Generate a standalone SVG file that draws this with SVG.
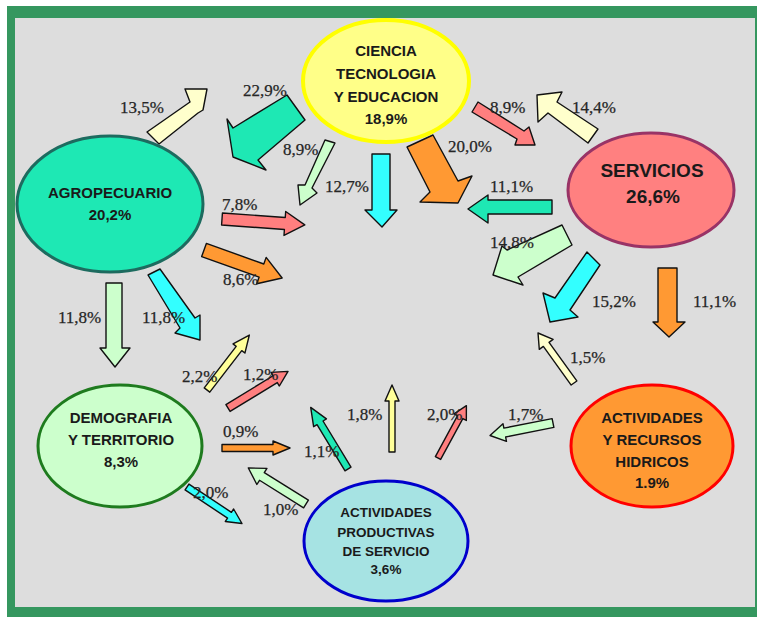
<svg xmlns="http://www.w3.org/2000/svg" width="757" height="617" viewBox="0 0 757 617">
<style>
.ar{stroke:#111;stroke-width:1.4;stroke-linejoin:round}
.cream{fill:#ffffcc}.teal{fill:#1ee8b4}.lg{fill:#ccffcc}.cyan{fill:#33ffff}.orange{fill:#ff9933}.pink{fill:#ff7f7f}.yellow{fill:#ffff99}
.lb{font-family:"Liberation Serif","Times New Roman",serif;font-size:17px;fill:#262626;stroke:#262626;stroke-width:0.25}
.nt{font-family:"Liberation Sans",Arial,sans-serif;font-weight:bold;font-size:15px;fill:#1a1a1a;text-anchor:middle}
</style>
<rect x="0" y="0" width="757" height="617" fill="#ffffff"/>
<rect x="7" y="6" width="750" height="611" fill="#35975f"/>
<rect x="15" y="18" width="740" height="589" fill="#dddddd"/>

<g id="connectors">
  <g id="e-agro-cte"><polygon class="ar cream" points="147,132 190,102 185,89 207,89 203,110 198,113 159,144"/><text class="lb" x="120" y="113">13,5%</text></g>
  <g id="e-cte-agro"><polygon class="ar teal" points="287,95 233,128 227,119 233,157 266,170 258,160 305,120"/><text class="lb" x="243" y="96">22,9%</text></g>
  <g id="e-cte-demo"><polygon class="ar lg" points="325,140 305,185 298,185 300,205 317,193 312,188 335,143"/><text class="lb" x="283" y="155">8,9%</text></g>
  <g id="e-cte-prod"><polygon class="ar cyan" points="372,154 390,154 390,210 397,210 382,227 365,210 372,210"/><text class="lb" x="325" y="192">12,7%</text></g>
  <g id="e-cte-hid"><polygon class="ar orange" points="407,147 433,135 458,181 472,176 458,203 420,202 430,192"/><text class="lb" x="448" y="152">20,0%</text></g>
  <g id="e-cte-serv"><polygon class="ar pink" points="472,112 478,102 524,131 529,127 535,145 515,145 517,139"/><text class="lb" x="490" y="113">8,9%</text></g>
  <g id="e-serv-cte"><polygon class="ar cream" points="537,95 562,92 557,102 598,129 588,143 548,113 538,122"/><text class="lb" x="572" y="113">14,4%</text></g>
  <g id="e-serv-agro"><polygon class="ar teal" points="552,200 552,214 488,214 488,223 468,209 488,195 488,200"/><text class="lb" x="490" y="192">11,1%</text></g>
  <g id="e-serv-demo"><polygon class="ar lg" points="562,225 507,250 502,246 493,275 523,285 518,277 572,245"/><text class="lb" x="490" y="248">14,8%</text></g>
  <g id="e-serv-prod"><polygon class="ar cyan" points="587,252 555,298 543,293 550,322 578,317 570,310 600,265"/><text class="lb" x="592" y="307">15,2%</text></g>
  <g id="e-serv-hid"><polygon class="ar orange" points="658,268 677,268 677,322 685,322 669,337 653,322 658,322"/><text class="lb" x="693" y="307">11,1%</text></g>
  <g id="e-agro-demo"><polygon class="ar lg" points="106,283 122,283 122,348 130,348 115,367 100,348 106,348"/><text class="lb" x="58" y="323">11,8%</text></g>
  <g id="e-agro-prod"><polygon class="ar cyan" points="148,275 160,269 195,318 200,315 200,340 175,333 180,328"/><text class="lb" x="142" y="323">11,8%</text></g>
  <g id="e-agro-serv"><polygon class="ar pink" transform="translate(222,219) rotate(4.1)" points="0,-6 63,-6 63,-12 83,0 63,12 63,6 0,6"/><text class="lb" x="222" y="210">7,8%</text></g>
  <g id="e-agro-hid"><polygon class="ar orange" transform="translate(204,250) rotate(19.7)" points="0,-7 61,-7 61,-14 83,0 61,14 61,7 0,7"/><text class="lb" x="223" y="285">8,6%</text></g>
  <g id="e-demo-cte"><polygon class="ar yellow" transform="translate(207,390) rotate(-52.4)" points="0,-3.5 52.4,-3.5 52.4,-7.5 69.4,0 52.4,7.5 52.4,3.5 0,3.5"/><text class="lb" x="182" y="382">2,2%</text></g>
  <g id="e-demo-serv"><polygon class="ar pink" transform="translate(228,408) rotate(-31.4)" points="0,-4 55.3,-4 55.3,-8 70.3,0 55.3,8 55.3,4 0,4"/><text class="lb" x="243" y="380">1,2%</text></g>
  <g id="e-demo-hid"><polygon class="ar orange" transform="translate(222,448)" points="0,-3.5 51,-3.5 51,-7 68,0 51,7 51,3.5 0,3.5"/><text class="lb" x="223" y="437">0,9%</text></g>
  <g id="e-demo-prod"><polygon class="ar cyan" transform="translate(187,487) rotate(33.6)" points="0,-3.5 51,-3.5 51,-7.5 66,0 51,7.5 51,3.5 0,3.5"/><text class="lb" x="193" y="498">2,0%</text></g>
  <g id="e-prod-demo"><polygon class="ar lg" transform="translate(306,504) rotate(-148)" points="0,-4.5 52,-4.5 52,-9.5 68,0 52,9.5 52,4.5 0,4.5"/><text class="lb" x="263" y="515">1,0%</text></g>
  <g id="e-prod-agro"><polygon class="ar teal" transform="translate(348,469) rotate(-121.2)" points="0,-3.5 54,-3.5 54,-7.5 72,0 54,7.5 54,3.5 0,3.5"/><text class="lb" x="304" y="457">1,1%</text></g>
  <g id="e-prod-cte"><polygon class="ar yellow" transform="translate(392,452) rotate(-90)" points="0,-3 51,-3 51,-7 67,0 51,7 51,3 0,3"/><text class="lb" x="347" y="420">1,8%</text></g>
  <g id="e-prod-serv"><polygon class="ar pink" transform="translate(438,458) rotate(-61.5)" points="0,-3 46.5,-3 46.5,-7 59.5,0 46.5,7 46.5,3 0,3"/><text class="lb" x="427" y="420">2,0%</text></g>
  <g id="e-hid-demo"><polygon class="ar lg" transform="translate(553,423) rotate(168.8)" points="0,-4.5 49.2,-4.5 49.2,-9 64.2,0 49.2,9 49.2,4.5 0,4.5"/><text class="lb" x="508" y="420">1,7%</text></g>
  <g id="e-hid-cte"><polygon class="ar cream" transform="translate(574,383) rotate(-125.75)" points="0,-3.5 47.6,-3.5 47.6,-8.5 61.6,0 47.6,8.5 47.6,3.5 0,3.5"/><text class="lb" x="570" y="363">1,5%</text></g>
</g>

<g id="ciencia">
  <ellipse cx="386" cy="81" rx="83" ry="61" fill="#ffff88" stroke="#ffff00" stroke-width="4"/>
  <text class="nt" x="386" y="56">CIENCIA</text>
  <text class="nt" x="386" y="79">TECNOLOGIA</text>
  <text class="nt" x="386" y="101.5">Y EDUCACION</text>
  <text class="nt" x="386" y="124">18,9%</text>
</g>
<g id="servicios">
  <ellipse cx="651" cy="190" rx="83" ry="57" fill="#ff8080" stroke="#993366" stroke-width="3"/>
  <text class="nt" x="652" y="177" style="font-size:19px">SERVICIOS</text>
  <text class="nt" x="653" y="203" style="font-size:19px">26,6%</text>
</g>
<g id="agropecuario">
  <ellipse cx="110" cy="204" rx="93" ry="68" fill="#1ee8b4" stroke="#1d6b5f" stroke-width="3"/>
  <text class="nt" x="110" y="198">AGROPECUARIO</text>
  <text class="nt" x="110" y="220">20,2%</text>
</g>
<g id="demografia">
  <ellipse cx="120" cy="446" rx="82" ry="61" fill="#ccffcc" stroke="#1e7b1e" stroke-width="3"/>
  <text class="nt" x="121" y="423">DEMOGRAFIA</text>
  <text class="nt" x="121" y="445">Y TERRITORIO</text>
  <text class="nt" x="121" y="467">8,3%</text>
</g>
<g id="productivas">
  <ellipse cx="386" cy="541" rx="82" ry="60" fill="#a6e3e3" stroke="#0000cc" stroke-width="3"/>
  <text class="nt" x="386" y="516.5" style="font-size:13.5px">ACTIVIDADES</text>
  <text class="nt" x="386" y="536.5" style="font-size:13.5px">PRODUCTIVAS</text>
  <text class="nt" x="386" y="555.5" style="font-size:13.5px">DE SERVICIO</text>
  <text class="nt" x="386" y="574" style="font-size:13.5px">3,6%</text>
</g>
<g id="hidricos">
  <ellipse cx="652" cy="446" rx="81" ry="61" fill="#ff9933" stroke="#ff0000" stroke-width="3"/>
  <text class="nt" x="652" y="423">ACTIVIDADES</text>
  <text class="nt" x="652" y="445">Y RECURSOS</text>
  <text class="nt" x="652" y="467">HIDRICOS</text>
  <text class="nt" x="652" y="488">1.9%</text>
</g>
</svg>
